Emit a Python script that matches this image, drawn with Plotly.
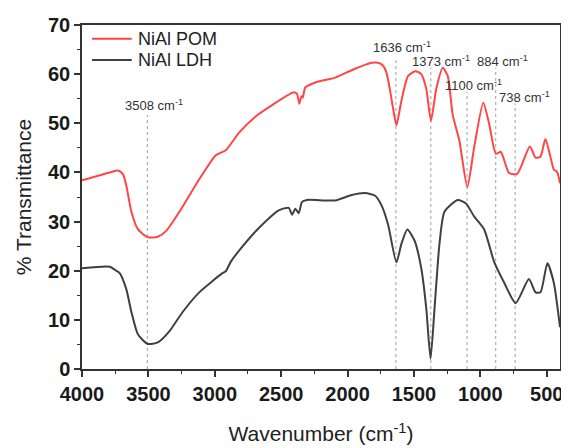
import plotly.graph_objects as go

# ---- data ----
pom_wn = [4000, 3790, 3728, 3691, 3666, 3628, 3578, 3504, 3429, 3366, 3266, 3117, 2992, 2917,
          2817, 2692, 2568, 2406, 2381, 2363, 2348, 2338, 2318, 2243, 2094, 1969, 1820, 1770,
          1732, 1707, 1682, 1660, 1632, 1595, 1545, 1490, 1445, 1407, 1372, 1332, 1283, 1245,
          1208, 1158, 1098, 1046, 978, 933, 883, 846, 784, 722, 627, 584, 547, 510, 472, 447,
          422, 400]
pom_t = [38.4, 40.0, 40.4, 39.6, 37.3, 32.0, 28.4, 26.8, 26.9, 28.1, 32.0, 38.6, 43.5, 44.5,
         48.1, 51.4, 53.7, 56.3, 56.0, 54.0, 55.5, 55.2, 57.3, 58.3, 59.3, 60.8, 62.3, 62.3,
         61.7, 60.3, 57.0, 53.5, 49.6, 54.5, 59.6, 60.6, 60.0, 57.0, 50.5, 57.0, 61.3, 59.6,
         51.7, 46.5, 37.0, 45.2, 54.2, 49.8, 43.8, 44.2, 39.9, 39.7, 45.3, 43.0, 43.2, 46.8,
         43.2, 40.6, 40.1, 37.8]

ldh_wn = [4000, 3790, 3753, 3716, 3666, 3628, 3578, 3504, 3429, 3341, 3242, 3117, 2942, 2917,
          2880, 2817, 2668, 2518, 2443, 2418, 2393, 2368, 2343, 2306, 2094, 1969, 1869, 1794,
          1744, 1695, 1632, 1595, 1550, 1495, 1445, 1407, 1375, 1345, 1308, 1270, 1171, 1108,
          1046, 971, 896, 821, 734, 634, 584, 547, 495, 447, 400]
ldh_t = [20.5, 20.8, 20.2, 19.5, 16.2, 11.6, 7.0, 5.1, 5.4, 7.7, 11.6, 15.6, 19.5, 19.9,
         21.8, 24.1, 28.7, 32.3, 32.8, 31.4, 32.6, 31.7, 34.0, 34.4, 34.3, 35.4, 35.8, 35.3,
         33.3, 29.4, 21.7, 25.4, 28.4, 26.1, 20.5, 12.3, 2.1, 12.3, 25.4, 32.0, 34.4, 33.7,
         31.0, 28.4, 21.8, 17.6, 13.4, 18.3, 15.6, 15.6, 21.5, 17.6, 8.5]

series_names = ["NiAl POM", "NiAl LDH"]

peaks = [3508, 1636, 1373, 1100, 884, 738]
peak_labels = ["3508 cm<sup>-1</sup>", "1636 cm<sup>-1</sup>", "1373 cm<sup>-1</sup>",
               "1100 cm<sup>-1</sup>", "884 cm<sup>-1</sup>", "738 cm<sup>-1</sup>"]

x_ticks = [4000, 3500, 3000, 2500, 2000, 1500, 1000, 500]
y_ticks = [0, 10, 20, 30, 40, 50, 60, 70]

# ---- layout config (positions of guide lines and labels) ----
line_tops = [51.7, 63.3, 61.3, 56.4, 61.3, 54.0]
label_x = [3457, 1590, 1294, 1051, 834, 665]
label_y = [53.8, 65.5, 62.7, 57.8, 62.7, 55.4]

FONT = "Arial, Liberation Sans, sans-serif"
COLORS = ["#FF4545", "#404040"]

fig = go.Figure()
for name, xs, ys, col in zip(series_names, [pom_wn, ldh_wn], [pom_t, ldh_t], COLORS):
    fig.add_trace(go.Scatter(x=xs, y=ys, mode="lines", name=name, showlegend=False,
                             line=dict(color=col, width=2, shape="spline", smoothing=0.6)))

for p, top in zip(peaks, line_tops):
    fig.add_shape(type="line", x0=p, x1=p, y0=0, y1=top, xref="x", yref="y",
                  line=dict(color="#A0A0A0", width=1, dash="dot"), layer="below")

for txt, lx, ly in zip(peak_labels, label_x, label_y):
    fig.add_annotation(x=lx, y=ly, text=txt, showarrow=False, xref="x", yref="y",
                       font=dict(family=FONT, size=13, color="#333333"))

# legend drawn in the plot's paper coordinates
leg_y = [0.96, 0.898]
for name, col, ly in zip(series_names, COLORS, leg_y):
    fig.add_shape(type="line", x0=0.021, x1=0.104, y0=ly, y1=ly, xref="paper", yref="paper",
                  line=dict(color=col, width=2))
    fig.add_annotation(x=0.114, y=ly, text=name, showarrow=False, xref="paper", yref="paper",
                       xanchor="left", yanchor="middle",
                       font=dict(family=FONT, size=18, color="#222222"))

axis_common = dict(showline=True, linecolor="#333333", linewidth=1.5, mirror=True,
                   ticks="outside", ticklen=6, tickwidth=1.5, tickcolor="#333333",
                   showgrid=False, zeroline=False,
                   tickfont=dict(family=FONT, size=20, color="#1a1a1a", weight="bold"))

fig.update_layout(
    width=561, height=440,
    margin=dict(l=74, r=6, t=16, b=69),
    paper_bgcolor="white", plot_bgcolor="white",
    showlegend=False,
    xaxis=dict(range=[4000, 400], tickvals=x_ticks, ticktext=[str(v) for v in x_ticks],
               minor=dict(ticks="outside", ticklen=3, tickwidth=1.2, tickcolor="#333333", dtick=250, tick0=0),
               title=dict(text="Wavenumber (cm<sup>-1</sup>)", standoff=23,
                          font=dict(family=FONT, size=21, color="#222222")),
               **axis_common),
    yaxis=dict(range=[0, 70], tickvals=y_ticks, ticktext=[str(v) for v in y_ticks],
               minor=dict(ticks="outside", ticklen=3, tickwidth=1.2, tickcolor="#333333", dtick=5, tick0=0),
               title=dict(text="% Transmittance", standoff=11,
                          font=dict(family=FONT, size=21, color="#222222")),
               **axis_common),
)

fig.write_html("out.html")
